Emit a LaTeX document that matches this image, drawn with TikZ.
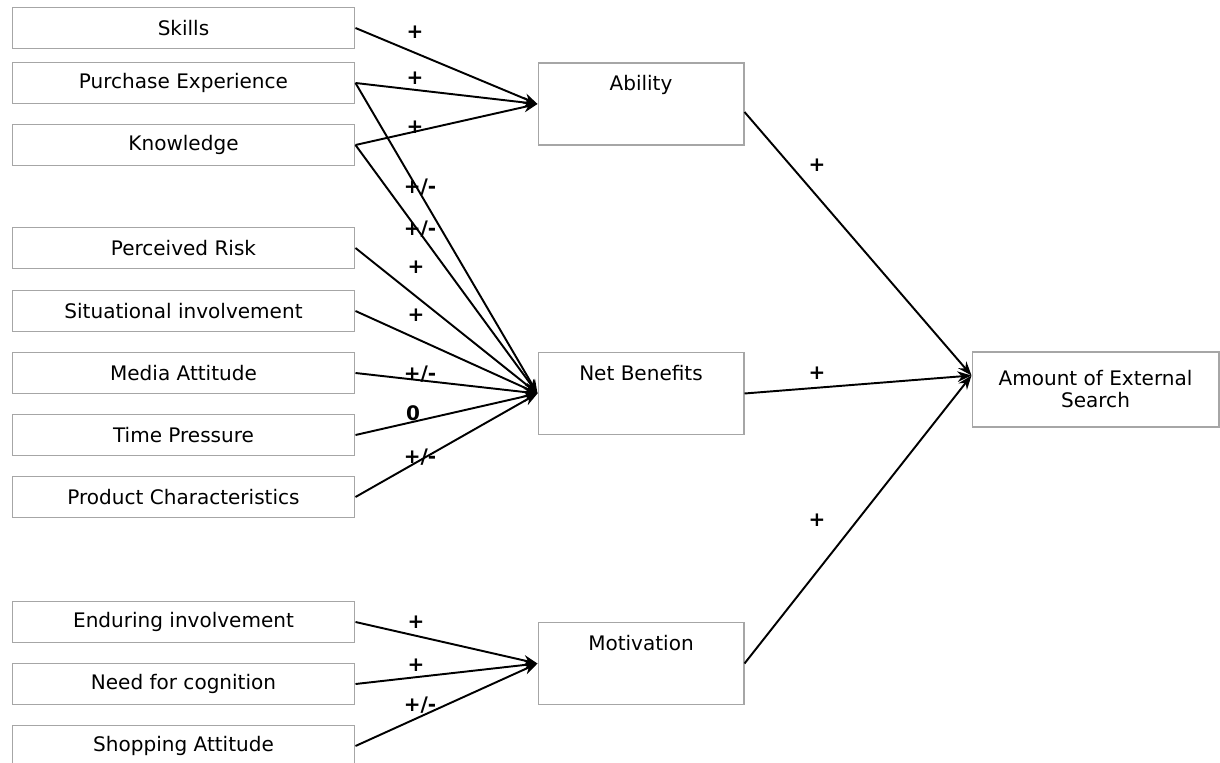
\documentclass[tikz,border=0pt]{standalone}
\usepackage{fontspec}
\setmainfont{DejaVu Sans}
\usetikzlibrary{positioning, calc, arrows.meta}

\tikzset{
  factor/.style={draw=gray!70, line width=0.6pt, minimum width=6.86cm, minimum height=0.82cm,
    inner sep=0pt, font=\fontsize{11.4}{13}\selectfont},
  construct/.style={draw=gray!70, line width=0.6pt, minimum width=4.12cm, minimum height=1.64cm,
    inner sep=0pt, font=\fontsize{11.4}{12.5}\selectfont},
  every label/.append style={font=\fontsize{11.4}{13}\selectfont},
  effect/.style={draw, line width=1.1pt, -{Stealth[length=8pt,width=6pt]}},
  sign/.style={font=\fontsize{11.4}{13}\selectfont\bfseries, inner sep=1pt},
}

\begin{document}
\begin{tikzpicture}[x=0.02cm, y=-0.02cm]
    \useasboundingbox (0,0) rectangle (1220,763);
    % antecedents
    \foreach \name/\y/\txt in {skills/28/Skills, purchase/83/Purchase Experience,
        knowledge/145/Knowledge, risk/248/Perceived Risk, situational/311/Situational involvement,
        media/373/Media Attitude, timep/435/Time Pressure, product/497/Product Characteristics,
        enduring/622/Enduring involvement, cognition/684/Need for cognition,
        shopping/746/Shopping Attitude}
        \node[factor] (\name) at (183.5,\y) {\txt};
    % constructs
    \node[construct, label={[anchor=north, yshift=-4pt]north:Ability}] (ability) at (641,104) {};
    \node[construct, label={[anchor=north, yshift=-4pt]north:Net Benefits}] (benefits) at (641,393.5) {};
    \node[construct, label={[anchor=north, yshift=-4pt]north:Motivation}] (motivation) at (641,663.5) {};
    \node[construct, minimum width=4.94cm, minimum height=1.5cm, align=center] (amount) at (1095.5,389.5)
        {Amount of External\\Search};
    \coordinate (amountin) at ($(amount.west)+(0,-14)$);
    % effects
    \foreach \src in {skills, purchase, knowledge}
        \draw[effect] (\src.east) -- (ability.west);
    \foreach \src in {purchase, knowledge, risk, situational, media, timep, product}
        \draw[effect] (\src.east) -- (benefits.west);
    \foreach \src in {enduring, cognition, shopping}
        \draw[effect] (\src.east) -- (motivation.west);
    \draw[effect] ([yshift=-0.16cm]ability.east) -- (amountin);
    \draw[effect] (benefits.east) -- (amountin);
    \draw[effect] (motivation.east) -- (amountin);
    % signs
    \foreach \i/\x/\y/\t in {1/415/32/+, 2/415/78/+, 3/415/127/+, 4/420/187/{+/-}, 5/420/229/{+/-},
        6/416/267/+, 7/416/315/+, 8/420/374/{+/-}, 9/413/413/0, 10/420/457/{+/-},
        11/416/622/+, 12/416/665/+, 13/420/705/{+/-}, 14/817/165/+, 15/817/373/+, 16/817/520/+}
        \node[sign] (sign\i) at (\x,\y) {\t};
\end{tikzpicture}
\end{document}
